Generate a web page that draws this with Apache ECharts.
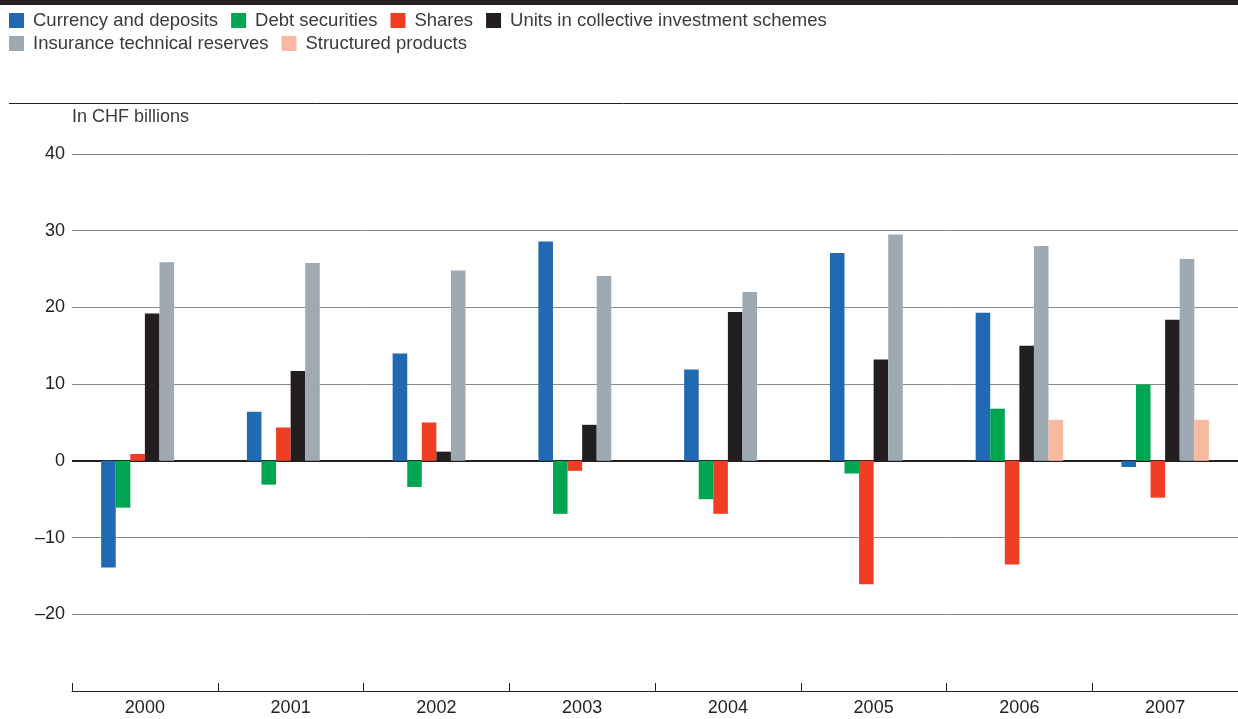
<!DOCTYPE html>
<html>
<head>
<meta charset="utf-8">
<script src="https://cdn.jsdelivr.net/npm/echarts@6/dist/echarts.min.js"></script>
<style>
html,body{margin:0;padding:0;background:#fff;}
#c{width:1238px;height:719px;}
</style>
</head>
<body>
<div id="c"></div>
<script>
var years = ['2000','2001','2002','2003','2004','2005','2006','2007'];
var currencyDeposits = [-13.9, 6.4, 14.0, 28.6, 11.9, 27.1, 19.3, -0.8];
var debtSecurities   = [-6.1, -3.1, -3.4, -6.9, -5.0, -1.65, 6.8, 9.95];
var shares           = [0.9, 4.35, 5.0, -1.3, -6.9, -16.1, -13.5, -4.8];
var unitsCIS         = [19.2, 11.7, 1.2, 4.7, 19.4, 13.2, 15.0, 18.4];
var insuranceReserves= [25.9, 25.8, 24.8, 24.1, 22.0, 29.5, 28.0, 26.3];
var structuredProducts=[null, null, null, null, null, null, 5.35, 5.35];
var seriesNames = ['Currency and deposits','Debt securities','Shares','Units in collective investment schemes','Insurance technical reserves','Structured products'];
var yTicks = [-30,-20,-10,0,10,20,30,40];

var colors = ['#2169b3','#00a551','#ef3e23','#231f20','#9eaab3','#f8b9a0'];
var dataSets = [currencyDeposits, debtSecurities, shares, unitsCIS, insuranceReserves, structuredProducts];
var font = "'Liberation Sans', Arial, sans-serif";

var series = dataSets.map(function(d, i){
  var s = {
    name: seriesNames[i], type: 'bar', data: d,
    barGap: '0%', barCategoryGap: '40%',
    itemStyle: {color: colors[i]}
  };
  if (i === 0) {
    s.markLine = {
      silent: true, symbol: ['none','none'], label:{show:false},
      lineStyle:{color:'#231f20', width:2, type:'solid'},
      data:[{yAxis:0}], z: 1
    };
  }
  return s;
});

var legendText = {fontFamily: font, fontSize: 18.5, color: '#3a3a3a', padding:[0,0,0,4]};
var chart = echarts.init(document.getElementById('c'), null, {renderer:'canvas'});
chart.setOption({
  animation: false,
  color: colors,
  textStyle: {fontFamily: font},
  graphic: [
    {type:'rect', left:0, top:0, shape:{width:1238, height:5}, style:{fill:'#231f20'}},
    {type:'line', shape:{x1:9, y1:103.5, x2:1238, y2:103.5}, style:{stroke:'#231f20', lineWidth:1}},
    {type:'text', left:72, top:108, style:{text:'In CHF billions', font:'18px ' + font, fill:'#3a3a3a'}}
  ],
  legend: [
    {left: 9, top: 11, padding: 0, itemWidth: 15, itemHeight: 15, itemGap: 13, icon:'rect',
     data: seriesNames.slice(0,4), textStyle: legendText, selectedMode:false},
    {left: 9, top: 34, padding: 0, itemWidth: 15, itemHeight: 15, itemGap: 13, icon:'rect',
     data: seriesNames.slice(4), textStyle: legendText, selectedMode:false}
  ],
  grid: {left: 72, right: 0, top: 154, bottom: 28, containLabel:false},
  xAxis: {
    type:'category', data: years,
    axisLine:{show:true, onZero:false, lineStyle:{color:'#231f20', width:1}},
    axisTick:{show:true, inside:true, length:8, lineStyle:{color:'#231f20'}},
    axisLabel:{fontFamily:font, fontSize:18, color:'#222', margin:8},
    splitLine:{show:false}
  },
  yAxis: {
    type:'value', min:-30, max:40, interval:10,
    axisLine:{show:false}, axisTick:{show:false},
    axisLabel:{fontFamily:font, fontSize:18, color:'#222', margin:7,
      formatter:function(v){ if (v === -30) return ''; return v < 0 ? '\u2013' + Math.abs(v) : String(v); }},
    splitLine:{show:true, lineStyle:{color:'#8a8a8a', width:1}}
  },
  series: series
});
</script>
</body>
</html>
